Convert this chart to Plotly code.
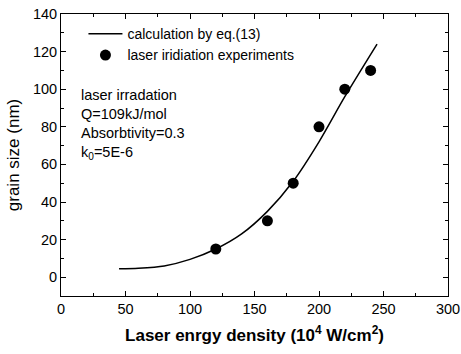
import plotly.graph_objects as go

# Experimental data
exp_x = [120, 160, 180, 200, 220, 240]
exp_y = [15, 30, 50, 80, 100, 110]

# Calculated curve (eq. 13)
calc_x = [45, 60, 80, 100, 120, 140, 160, 180, 200, 220, 245]
calc_y = [4.5, 4.8, 6, 9.5, 15, 23, 35, 51, 72, 96, 124]

x_ticks = [0, 50, 100, 150, 200, 250, 300]
y_ticks = [0, 20, 40, 60, 80, 100, 120, 140]

FONT = "Liberation Sans, Arial, sans-serif"

fig = go.Figure()
fig.add_trace(go.Scatter(
    x=calc_x, y=calc_y, mode="lines", name="calculation by eq.(13)",
    line=dict(color="black", width=1.5, shape="spline", smoothing=0.8),
))
fig.add_trace(go.Scatter(
    x=exp_x, y=exp_y, mode="markers", name="laser iridiation experiments",
    marker=dict(color="black", size=11, symbol="circle"),
))

fig.add_annotation(
    xref="paper", yref="paper", x=0.047, y=0.75, xanchor="left", yanchor="top",
    align="left", showarrow=False,
    text="laser irradation<br>Q=109kJ/mol<br>Absorbtivity=0.3<br>k<sub>0</sub>=5E-6",
    font=dict(family=FONT, size=14.5, color="black"),
)

axis_common = dict(
    showline=True, linecolor="black", linewidth=1, mirror="ticks",
    ticks="inside", ticklen=5, tickwidth=1, tickcolor="black",
    showgrid=False, zeroline=False, automargin=False,
    tickfont=dict(family=FONT, size=14.5, color="black"),
)

fig.update_xaxes(
    range=[0, 300], tickvals=x_ticks,
    minor=dict(dtick=25, ticks="inside", ticklen=3, tickcolor="black"),
    title=dict(text="<b>Laser enrgy density (10<sup>4</sup> W/cm<sup>2</sup>)</b>",
               font=dict(family=FONT, size=17, color="black"), standoff=12),
    **axis_common,
)
fig.update_yaxes(
    range=[-10, 140], tickvals=y_ticks,
    minor=dict(dtick=10, tick0=0, ticks="inside", ticklen=3, tickcolor="black"),
    title=dict(text="grain size (nm)", font=dict(family=FONT, size=17, color="black"), standoff=8),
    **axis_common,
)

fig.update_layout(
    width=461, height=354,
    margin=dict(l=61, r=13, t=14, b=58),
    paper_bgcolor="white", plot_bgcolor="white",
    showlegend=True,
    legend=dict(x=0.058, y=0.985, xanchor="left", yanchor="top",
                bgcolor="rgba(0,0,0,0)", borderwidth=0,
                font=dict(family=FONT, size=14, color="black"),
                tracegroupgap=0, itemwidth=34),
)

fig.write_html(
    "out.html",
    config={"displayModeBar": False},
    post_script="document.body.style.margin='0';document.body.style.overflow='hidden';",
)
